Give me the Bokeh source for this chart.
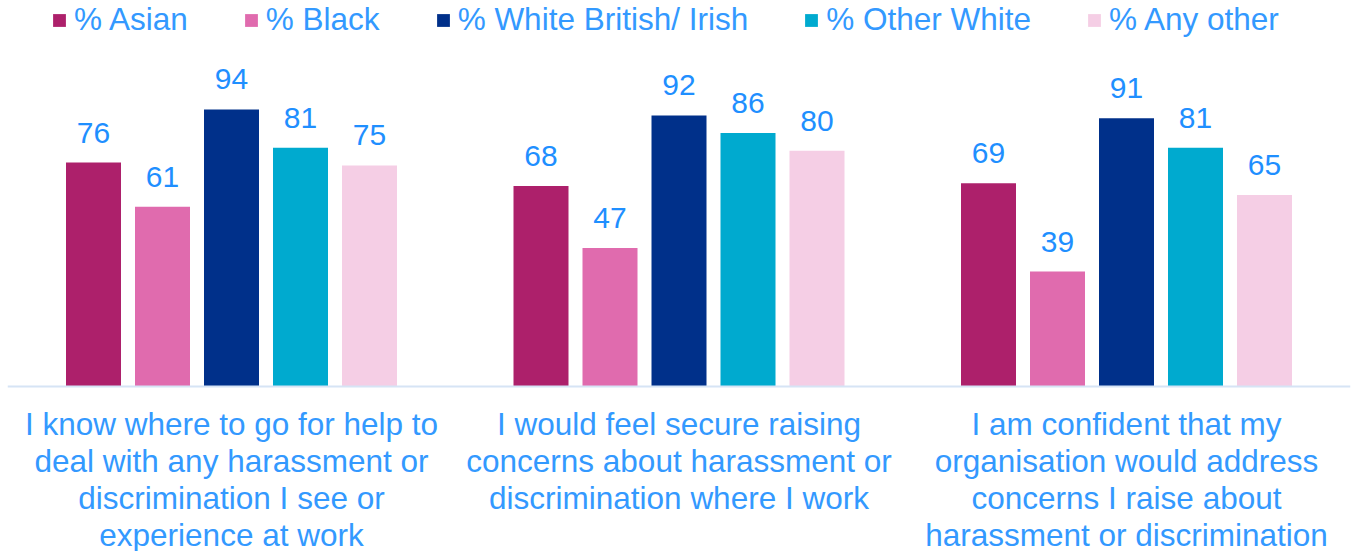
from bokeh.plotting import figure
from bokeh.models import Range1d, ColumnDataSource, Legend, LegendItem
from bokeh.core.properties import value
from bokeh.embed import file_html
from bokeh.resources import INLINE

categories = [
    "I know where to go for help to\ndeal with any harassment or\ndiscrimination I see or\nexperience at work",
    "I would feel secure raising\nconcerns about harassment or\ndiscrimination where I work",
    "I am confident that my\norganisation would address\nconcerns I raise about\nharassment or discrimination",
]
series_names = ["% Asian", "% Black", "% White British/ Irish", "% Other White", "% Any other"]
asian = [76, 68, 69]
black = [61, 47, 39]
white_british_irish = [94, 92, 91]
other_white = [81, 86, 81]
any_other = [75, 80, 65]
series_values = [asian, black, white_british_irish, other_white, any_other]
colors = ["#AD206B", "#E06BAE", "#00308A", "#00AACF", "#F5CEE5"]

FONT = "Liberation Sans"
TXT = "#3399FF"
NUM = "#1F8FFF"

W, H = 1351, 551
px_per_group = 447.5
c0 = 231.0
base_px = 386.0
px_per_unit = 2.947

p = figure(width=W, height=H, output_backend="svg", toolbar_location=None,
           x_axis_type=None, y_axis_type=None, min_border=0,
           x_range=Range1d(-c0 / px_per_group, (W - c0) / px_per_group),
           y_range=Range1d(-(H - base_px) / px_per_unit, base_px / px_per_unit))
p.outline_line_color = None
p.xgrid.visible = False
p.ygrid.visible = False
p.background_fill_color = "white"
p.border_fill_color = "white"

step = 69 / px_per_group
bw = 55 / px_per_group
items = []
for j, (name, vals, col) in enumerate(zip(series_names, series_values, colors)):
    xs = [i + (j - 2) * step for i in range(len(categories))]
    src = ColumnDataSource(dict(x=xs, top=vals, label=[str(v) for v in vals]))
    r = p.vbar(x="x", top="top", bottom=0, width=bw, source=src,
               fill_color=col, line_color=None)
    p.text(x="x", y="top", text="label", source=src, text_align="center",
           text_baseline="alphabetic", y_offset=-30, text_color=NUM,
           text_font=value(FONT), text_font_size="30px")
    items.append(LegendItem(label=name, renderers=[r]))

p.segment(x0=[-0.5], x1=[2.5], y0=[0], y1=[0], line_color="#D6E4F5", line_width=2)

p.text(x=list(range(len(categories))), y=[0] * len(categories), text=categories,
       text_align="center", text_baseline="top", y_offset=19,
       text_color=TXT, text_font=value(FONT), text_font_size="31.5px",
       text_line_height=1.03)

legend = Legend(items=items, orientation="horizontal", location=(51, H - 38),
                glyph_width=16, glyph_height=16, label_standoff=7, spacing=55,
                label_text_font=FONT, label_text_font_size="31.5px",
                label_text_color=TXT, padding=0, margin=0,
                border_line_color=None, background_fill_alpha=0)
p.add_layout(legend)

open("out.html", "w").write(file_html(p, INLINE))
